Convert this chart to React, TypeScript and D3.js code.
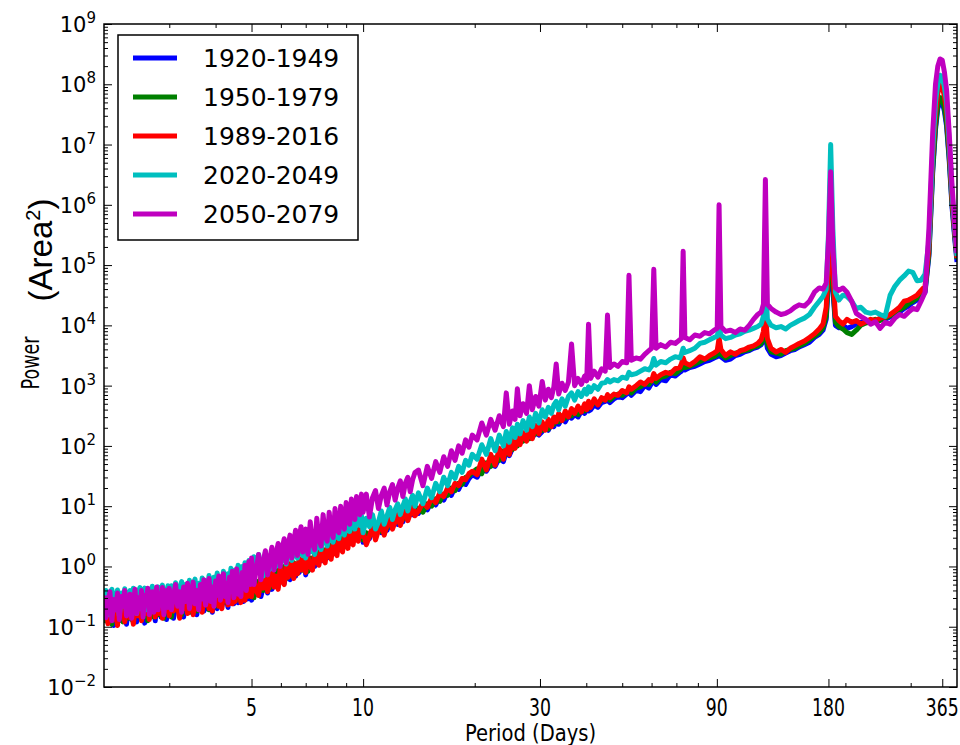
import React, { useRef, useEffect } from 'react'
import * as d3 from 'd3'

// period (days) of every spectral estimate, shared by all five runs
const periods = [
  2.000, 2.025, 2.050, 2.075, 2.100, 2.125, 2.150, 2.175, 2.200, 2.225, 2.250, 2.275, 2.300, 2.325, 2.350, 2.375, 2.400, 2.425, 2.450, 2.475,
  2.500, 2.525, 2.550, 2.575, 2.600, 2.625, 2.650, 2.675, 2.700, 2.725, 2.750, 2.775, 2.800, 2.825, 2.850, 2.875, 2.900, 2.925, 2.950, 2.975,
  3.00, 3.04, 3.08, 3.12, 3.16, 3.20, 3.24, 3.28, 3.32, 3.36, 3.40, 3.44, 3.48, 3.52, 3.56, 3.60, 3.64, 3.68, 3.72, 3.76, 3.80, 3.84, 3.88, 3.92, 3.96,
  4.00, 4.04, 4.08, 4.12, 4.16, 4.20, 4.24, 4.28, 4.32, 4.36, 4.40, 4.44, 4.48, 4.52, 4.56, 4.60, 4.64, 4.68, 4.72, 4.76, 4.80, 4.84, 4.88, 4.92, 4.96,
  5.000, 5.075, 5.150, 5.225, 5.300, 5.375, 5.450, 5.525, 5.600, 5.675, 5.750, 5.825, 5.900, 5.975, 6.050, 6.125, 6.200, 6.275, 6.350, 6.425,
  6.500, 6.575, 6.650, 6.725, 6.800, 6.875, 6.950,
  7.0, 7.1, 7.2, 7.3, 7.4, 7.5, 7.6, 7.7, 7.8, 7.9, 8.0, 8.1, 8.2, 8.3, 8.4, 8.5, 8.6, 8.7, 8.8, 8.9, 9.0, 9.1, 9.2, 9.3, 9.4, 9.5, 9.6, 9.7, 9.8, 9.9,
  10.0, 10.2, 10.4, 10.6, 10.8, 11.0, 11.2, 11.4, 11.6, 11.8, 12.0, 12.2, 12.4, 12.6, 12.8, 13.0, 13.2, 13.4, 13.6, 13.8,
  14.1, 14.5, 14.9, 15.3, 15.7, 16.1, 16.5, 16.9, 17.3, 17.7, 18.1, 18.5, 18.9, 19.3, 19.7,
  20.3, 20.9, 21.5, 22.1, 22.7, 23.3, 23.9, 24.33, 24.8, 25.3,
  25.7, 26.07, 26.5, 27.0, 27.6, 28.08, 28.6, 29.2, 29.8, 30.42,
  31.0, 31.6, 32.2, 32.7, 33.18, 33.7, 34.4, 35.1, 35.8, 36.5,
  37.2, 38.0, 38.8, 39.6, 40.1, 40.56, 41.1, 42.0, 43.0, 44.0,
  45.0, 45.63, 46.3, 47.5, 48.7, 50.0, 51.4, 52.14, 52.9, 54.5,
  56.0, 57.5, 59.0, 60.0, 60.83, 61.7, 63.5, 65.5, 67.5, 69.5,
  71.5, 72.2, 73.0, 73.8, 76.0, 78.5, 81.0, 83.5, 86.0, 88.5,
  90.2, 91.25, 92.3, 95.0, 98.0, 101, 104, 107, 110, 113,
  116, 118.5, 120.2, 121.67, 123.2, 126, 130, 134, 138, 142,
  146, 150, 155, 160, 165, 170, 174, 177.5, 180, 182.5,
  185, 188, 192, 197, 202, 208, 214, 220, 227, 234,
  241, 248, 256, 264, 272, 280, 288, 296, 304, 312,
  320, 328, 336, 344, 350, 355, 360, 365, 370, 375,
  381, 388, 395, 400
]

const blueLogPower = [
  -0.94, -0.70, -0.52, -0.86, -0.62, -0.98, -0.74, -0.56, -0.90, -0.66, -0.50, -0.80, -0.96, -0.64, -0.54, -0.88, -0.70, -0.52, -0.92, -0.60,
  -0.82, -0.48, -0.74, -0.94, -0.58, -0.68, -0.86, -0.52, -0.78, -0.62, -0.90, -0.56, -0.72, -0.50, -0.84, -0.64, -0.76, -0.48, -0.88, -0.60,
  -0.74, -0.58, -0.86, -0.64, -0.48, -0.78, -0.62, -0.84, -0.54, -0.70, -0.46, -0.76, -0.60, -0.50, -0.80, -0.56, -0.68, -0.44, -0.74, -0.58,
  -0.70, -0.48, -0.64, -0.76, -0.46, -0.62, -0.70, -0.42, -0.58, -0.66, -0.40, -0.60, -0.52, -0.68, -0.38, -0.56, -0.44, -0.62, -0.36, -0.54,
  -0.60, -0.42, -0.50, -0.32, -0.58, -0.44, -0.36, -0.54, -0.30, -0.48,
  -0.56, -0.36, -0.46, -0.28, -0.50, -0.34, -0.24, -0.44, -0.18, -0.38, -0.28, -0.12, -0.34, -0.20, -0.08, -0.28, -0.14, -0.02, -0.22, -0.06,
  0.00, -0.16, 0.04, -0.10, 0.06, -0.04, 0.10,
  -0.14, 0.06, -0.04, 0.12, 0.00, 0.18, 0.06, 0.22, 0.10, 0.26, 0.14, 0.30, 0.18, 0.34, 0.22, 0.38, 0.28, 0.42, 0.30, 0.46,
  0.36, 0.48, 0.40, 0.52, 0.44, 0.56, 0.48, 0.58, 0.52, 0.62,
  0.40, 0.54, 0.46, 0.60, 0.52, 0.64, 0.56, 0.70, 0.60, 0.72, 0.66, 0.76, 0.70, 0.82, 0.74, 0.86, 0.80, 0.90, 0.86, 0.94,
  0.88, 1.00, 0.94, 1.08, 1.02, 1.16, 1.10, 1.24, 1.18, 1.32, 1.28, 1.40, 1.36, 1.46, 1.52,
  1.48, 1.62, 1.58, 1.70, 1.66, 1.80, 1.74, 1.90, 1.84, 1.96,
  2.02, 2.06, 2.04, 2.12, 2.10, 2.16, 2.14, 2.22, 2.18, 2.24,
  2.30, 2.26, 2.36, 2.32, 2.42, 2.36, 2.46, 2.40, 2.50, 2.46,
  2.52, 2.48, 2.58, 2.54, 2.62, 2.58, 2.60, 2.68, 2.64, 2.72,
  2.74, 2.76, 2.72, 2.78, 2.82, 2.80, 2.86, 2.88, 2.84, 2.92,
  2.90, 3.00, 2.96, 3.04, 3.08, 3.02, 3.10, 3.08, 3.18, 3.16,
  3.22, 3.24, 3.30, 3.26, 3.30, 3.32, 3.36, 3.40, 3.42, 3.46,
  3.48, 3.58, 3.48, 3.42, 3.44, 3.50, 3.52, 3.56, 3.58, 3.62,
  3.64, 3.68, 3.74, 3.85, 3.62, 3.52, 3.48, 3.50, 3.54, 3.58,
  3.60, 3.64, 3.68, 3.72, 3.80, 3.85, 3.92, 4.10, 4.70, 5.45,
  4.60, 4.00, 3.96, 4.00, 3.95, 3.98, 4.02, 4.05, 4.08, 4.04,
  4.08, 4.10, 4.10, 4.14, 4.18, 4.22, 4.28, 4.32, 4.38, 4.42,
  4.48, 4.55, 5.15, 6.55, 7.25, 7.60, 7.72, 7.70, 7.55, 7.30,
  6.75, 5.95, 5.40, 5.05
]

const greenLogPower = [
  -0.62, -0.90, -0.54, -0.78, -0.96, -0.60, -0.48, -0.84, -0.66, -0.52, -0.92, -0.70, -0.56, -0.86, -0.50, -0.74, -0.94, -0.58, -0.80, -0.46,
  -0.68, -0.88, -0.52, -0.76, -0.60, -0.90, -0.48, -0.72, -0.56, -0.84, -0.64, -0.46, -0.80, -0.58, -0.74, -0.50, -0.86, -0.62, -0.44, -0.70,
  -0.66, -0.84, -0.50, -0.72, -0.60, -0.44, -0.80, -0.56, -0.68, -0.46, -0.76, -0.52, -0.64, -0.42, -0.74, -0.58, -0.48, -0.70, -0.40, -0.62,
  -0.54, -0.72, -0.44, -0.60, -0.38, -0.66, -0.50, -0.42, -0.64, -0.36, -0.56, -0.46, -0.60, -0.34, -0.52, -0.42, -0.58, -0.30, -0.48, -0.56,
  -0.36, -0.50, -0.28, -0.44, -0.54, -0.32, -0.46, -0.26, -0.40, -0.50,
  -0.30, -0.52, -0.24, -0.44, -0.20, -0.40, -0.30, -0.14, -0.36, -0.22, -0.10, -0.30, -0.04, -0.26, -0.14, 0.00, -0.20, -0.08, 0.04, -0.16,
  0.06, -0.04, -0.12, 0.10, 0.00, -0.06, 0.12,
  0.06, -0.08, 0.14, 0.02, 0.20, 0.08, 0.24, 0.12, 0.28, 0.16, 0.30, 0.22, 0.36, 0.26, 0.40, 0.30, 0.44, 0.34, 0.48, 0.38,
  0.50, 0.44, 0.54, 0.46, 0.58, 0.50, 0.60, 0.54, 0.64, 0.56,
  0.44, 0.56, 0.50, 0.62, 0.54, 0.68, 0.58, 0.72, 0.64, 0.74, 0.70, 0.80, 0.74, 0.84, 0.78, 0.88, 0.84, 0.92, 0.88, 0.98,
  0.96, 0.90, 1.04, 1.00, 1.12, 1.08, 1.20, 1.18, 1.30, 1.26, 1.38, 1.36, 1.48, 1.50, 1.56,
  1.62, 1.54, 1.72, 1.66, 1.80, 1.76, 1.92, 1.86, 1.98, 1.94,
  2.06, 2.00, 2.12, 2.08, 2.18, 2.12, 2.24, 2.20, 2.30, 2.26,
  2.34, 2.28, 2.40, 2.36, 2.44, 2.40, 2.50, 2.46, 2.54, 2.50,
  2.56, 2.52, 2.62, 2.58, 2.66, 2.62, 2.66, 2.72, 2.70, 2.76,
  2.78, 2.80, 2.76, 2.82, 2.86, 2.84, 2.90, 2.92, 2.88, 2.96,
  2.98, 3.04, 3.02, 3.08, 3.12, 3.06, 3.14, 3.16, 3.22, 3.20,
  3.26, 3.28, 3.34, 3.30, 3.32, 3.36, 3.40, 3.44, 3.46, 3.48,
  3.52, 3.62, 3.52, 3.46, 3.50, 3.54, 3.56, 3.58, 3.60, 3.64,
  3.66, 3.70, 3.78, 3.95, 3.70, 3.56, 3.54, 3.52, 3.58, 3.60,
  3.62, 3.66, 3.70, 3.76, 3.82, 3.88, 3.96, 4.15, 4.80, 5.60,
  4.70, 4.05, 3.98, 3.94, 3.88, 3.85, 3.92, 4.00, 4.04, 4.06,
  4.10, 4.08, 4.12, 4.16, 4.20, 4.26, 4.30, 4.36, 4.40, 4.45,
  4.50, 4.58, 5.20, 6.60, 7.30, 7.65, 7.78, 7.76, 7.60, 7.35,
  6.80, 6.00, 5.45, 5.10
]

const redLogPower = [
  -0.80, -0.55, -0.95, -0.62, -0.50, -0.88, -0.70, -0.98, -0.58, -0.76, -0.52, -0.92, -0.64, -0.48, -0.85, -0.60, -0.96, -0.72, -0.50, -0.82,
  -0.58, -0.90, -0.66, -0.46, -0.78, -0.56, -0.88, -0.50, -0.70, -0.44, -0.84, -0.60, -0.48, -0.78, -0.54, -0.86, -0.62, -0.42, -0.74, -0.52,
  -0.82, -0.56, -0.74, -0.44, -0.68, -0.86, -0.52, -0.70, -0.42, -0.78, -0.60, -0.48, -0.80, -0.54, -0.40, -0.72, -0.58, -0.76, -0.46, -0.64,
  -0.38, -0.70, -0.52, -0.74, -0.42, -0.60, -0.36, -0.66, -0.48, -0.70, -0.34, -0.56, -0.44, -0.64, -0.30, -0.52, -0.62, -0.38, -0.58, -0.28,
  -0.50, -0.40, -0.60, -0.26, -0.46, -0.56, -0.32, -0.50, -0.22, -0.44,
  -0.50, -0.22, -0.40, -0.48, -0.18, -0.36, -0.10, -0.42, -0.26, -0.06, -0.34, -0.16, -0.38, -0.02, -0.24, -0.30, 0.02, -0.18, -0.08, 0.08,
  -0.20, 0.04, -0.12, 0.12, -0.06, 0.16, -0.02,
  -0.10, 0.16, 0.00, -0.06, 0.22, 0.08, 0.02, 0.28, 0.12, 0.06, 0.32, 0.20, 0.12, 0.38, 0.24, 0.18, 0.44, 0.30, 0.24, 0.48,
  0.36, 0.30, 0.54, 0.40, 0.36, 0.58, 0.46, 0.42, 0.62, 0.50,
  0.58, 0.36, 0.50, 0.66, 0.44, 0.60, 0.72, 0.52, 0.68, 0.78, 0.62, 0.74, 0.86, 0.68, 0.82, 0.92, 0.76, 0.88, 1.00, 0.84,
  0.92, 1.06, 0.98, 1.14, 1.06, 1.22, 1.16, 1.30, 1.24, 1.38, 1.34, 1.46, 1.44, 1.54, 1.58,
  1.52, 1.78, 1.60, 1.86, 1.68, 1.96, 1.78, 2.02, 1.86, 2.10,
  1.96, 2.16, 2.02, 2.22, 2.08, 2.28, 2.12, 2.34, 2.20, 2.40,
  2.26, 2.44, 2.32, 2.48, 2.40, 2.54, 2.42, 2.58, 2.48, 2.62,
  2.54, 2.66, 2.56, 2.70, 2.60, 2.74, 2.64, 2.78, 2.68, 2.80,
  2.76, 2.85, 2.80, 2.86, 2.84, 2.92, 2.88, 2.98, 2.94, 3.00,
  3.06, 3.02, 3.10, 3.08, 3.20, 3.12, 3.18, 3.22, 3.20, 3.28,
  3.30, 3.36, 3.46, 3.38, 3.34, 3.40, 3.48, 3.44, 3.50, 3.54,
  3.58, 3.79, 3.60, 3.50, 3.56, 3.52, 3.58, 3.60, 3.64, 3.66,
  3.70, 3.76, 3.90, 4.20, 3.78, 3.62, 3.56, 3.60, 3.55, 3.62,
  3.66, 3.70, 3.74, 3.80, 3.86, 3.94, 4.02, 4.30, 5.00, 5.85,
  4.90, 4.15, 4.08, 4.02, 4.10, 4.05, 4.08, 4.02, 4.06, 4.10,
  4.08, 4.12, 4.14, 4.18, 4.24, 4.30, 4.40, 4.42, 4.46, 4.50,
  4.58, 4.65, 5.30, 6.80, 7.50, 7.85, 7.98, 7.96, 7.80, 7.55,
  6.95, 6.10, 5.50, 5.12
]

const cyanLogPower = [
  -0.62, -0.40, -0.80, -0.45, -0.38, -0.70, -0.50, -0.39, -0.82, -0.44, -0.58, -0.37, -0.75, -0.48, -0.40, -0.66, -0.36, -0.55, -0.78, -0.42,
  -0.35, -0.62, -0.45, -0.36, -0.72, -0.50, -0.38, -0.60, -0.33, -0.48, -0.70, -0.40, -0.34, -0.56, -0.42, -0.31, -0.64, -0.38, -0.50, -0.32,
  -0.60, -0.32, -0.48, -0.27, -0.56, -0.36, -0.25, -0.52, -0.30, -0.44, -0.23, -0.50, -0.32, -0.21, -0.46, -0.28, -0.52, -0.19, -0.38, -0.24,
  -0.48, -0.15, -0.34, -0.44, -0.18, -0.30, -0.11, -0.40, -0.20, -0.36, -0.08, -0.26, -0.42, -0.12, -0.30, -0.03, -0.22, -0.36, -0.06, -0.28,
  0.02, -0.18, -0.32, 0.00, -0.14, 0.06, -0.24, -0.04, 0.10, -0.16,
  -0.22, 0.16, -0.10, 0.20, 0.00, -0.16, 0.24, 0.05, -0.05, 0.27, 0.12, 0.00, 0.31, 0.08, 0.35, 0.14, 0.04, 0.38, 0.20, 0.10,
  0.42, 0.26, 0.14, 0.44, 0.30, 0.18, 0.48,
  0.14, 0.42, 0.24, 0.50, 0.20, 0.36, 0.54, 0.28, 0.46, 0.58, 0.34, 0.52, 0.62, 0.40, 0.56, 0.66, 0.46, 0.62, 0.72, 0.52,
  0.68, 0.76, 0.58, 0.72, 0.82, 0.62, 0.78, 0.86, 0.68, 0.84,
  0.56, 0.80, 0.66, 0.86, 0.62, 0.74, 0.92, 0.70, 0.84, 0.98, 0.78, 0.94, 1.04, 0.86, 1.00, 1.12, 0.92, 1.08, 1.18, 1.00,
  1.22, 1.04, 1.30, 1.14, 1.38, 1.24, 1.48, 1.34, 1.56, 1.46, 1.66, 1.56, 1.76, 1.68, 1.86,
  1.78, 2.02, 1.86, 2.12, 1.92, 2.18, 2.00, 2.24, 2.06, 2.30,
  2.14, 2.36, 2.20, 2.42, 2.26, 2.48, 2.32, 2.54, 2.38, 2.60,
  2.48, 2.64, 2.54, 2.68, 2.74, 2.60, 2.78, 2.66, 2.82, 2.88,
  2.76, 2.90, 2.82, 2.94, 2.86, 2.98, 2.90, 3.00, 2.94, 3.04,
  3.05, 3.10, 3.06, 3.10, 3.08, 3.14, 3.12, 3.22, 3.18, 3.20,
  3.24, 3.28, 3.26, 3.32, 3.45, 3.34, 3.40, 3.38, 3.44, 3.48,
  3.46, 3.52, 3.62, 3.55, 3.58, 3.62, 3.70, 3.72, 3.76, 3.80,
  3.82, 3.98, 3.84, 3.78, 3.80, 3.84, 3.86, 3.90, 3.92, 3.95,
  3.98, 4.02, 4.15, 4.78, 4.10, 4.00, 3.96, 3.98, 3.94, 4.00,
  4.04, 4.08, 4.12, 4.18, 4.30, 4.40, 4.48, 4.60, 5.50, 7.00,
  5.60, 4.55, 4.42, 4.50, 4.48, 4.40, 4.28, 4.30, 4.22, 4.20,
  4.22, 4.18, 4.15, 4.50, 4.65, 4.75, 4.82, 4.90, 4.88, 4.74,
  4.75, 4.85, 5.40, 6.90, 7.70, 8.00, 8.15, 8.12, 7.95, 7.70,
  7.05, 6.20, 5.55, 5.15
]

const magentaLogPower = [
  -0.48, -0.85, -0.60, -0.42, -0.90, -0.55, -0.72, -0.44, -0.88, -0.50, -0.66, -0.40, -0.82, -0.58, -0.46, -0.86, -0.62, -0.38, -0.78, -0.52,
  -0.70, -0.40, -0.84, -0.48, -0.60, -0.36, -0.80, -0.56, -0.42, -0.76, -0.50, -0.34, -0.72, -0.46, -0.62, -0.35, -0.80, -0.52, -0.40, -0.68,
  -0.36, -0.72, -0.50, -0.30, -0.66, -0.42, -0.76, -0.34, -0.58, -0.28, -0.70, -0.46, -0.26, -0.62, -0.40, -0.72, -0.30, -0.54, -0.22, -0.64,
  -0.44, -0.20, -0.58, -0.34, -0.66, -0.24, -0.48, -0.16, -0.56, -0.36, -0.12, -0.50, -0.28, -0.60, -0.18, -0.42, -0.08, -0.52, -0.30, -0.04,
  -0.46, -0.22, -0.50, -0.10, -0.36, 0.02, -0.40, -0.16, 0.08, -0.30,
  0.14, -0.30, -0.05, 0.20, -0.22, 0.08, 0.26, -0.14, 0.12, 0.32, -0.06, 0.22, 0.38, 0.00, 0.30, 0.46, 0.06, 0.34, 0.52, 0.14,
  0.42, 0.60, 0.18, 0.48, 0.66, 0.24, 0.56,
  0.62, 0.20, 0.74, 0.38, 0.28, 0.80, 0.46, 0.34, 0.86, 0.52, 0.42, 0.90, 0.58, 0.48, 0.96, 0.62, 0.56, 1.00, 0.70, 0.62,
  1.06, 0.76, 0.70, 1.12, 0.84, 0.78, 1.16, 0.90, 0.86, 1.20,
  0.90, 1.20, 0.82, 1.14, 1.26, 0.96, 1.18, 1.30, 1.02, 1.24, 1.36, 1.10, 1.30, 1.42, 1.16, 1.38, 1.48, 1.24, 1.44, 1.56,
  1.60, 1.34, 1.66, 1.46, 1.74, 1.56, 1.82, 1.66, 1.92, 1.76, 2.00, 1.88, 2.10, 1.98, 2.18,
  2.10, 2.38, 2.18, 2.44, 2.26, 2.50, 2.32, 2.88, 2.36, 2.58,
  2.44, 2.95, 2.50, 2.70, 2.54, 3.00, 2.60, 2.82, 2.66, 3.07,
  2.76, 2.94, 2.80, 2.98, 3.36, 2.86, 3.04, 2.92, 3.06, 3.69,
  3.00, 3.12, 3.02, 3.16, 3.08, 4.02, 3.12, 3.24, 3.14, 3.28,
  3.24, 4.17, 3.30, 3.36, 3.32, 3.40, 3.38, 4.83, 3.42, 3.46,
  3.44, 3.52, 3.58, 3.62, 4.93, 3.62, 3.68, 3.64, 3.72, 3.70,
  3.76, 3.78, 5.23, 3.80, 3.76, 3.84, 3.82, 3.88, 3.86, 3.92,
  3.95, 6.00, 3.98, 3.90, 3.92, 3.88, 3.94, 3.92, 4.00, 4.10,
  4.18, 4.22, 4.35, 6.42, 4.35, 4.28, 4.22, 4.18, 4.20, 4.24,
  4.30, 4.34, 4.32, 4.40, 4.55, 4.62, 4.60, 4.70, 5.40, 6.55,
  5.30, 4.62, 4.58, 4.62, 4.55, 4.40, 4.20, 4.15, 4.10, 4.02,
  4.06, 3.95, 4.05, 4.02, 4.12, 4.18, 4.15, 4.22, 4.28, 4.26,
  4.40, 4.55, 5.60, 7.20, 8.00, 8.30, 8.42, 8.40, 8.20, 7.90,
  7.20, 6.30, 5.60, 5.20
]

const seriesLabels = ['1920-1949', '1950-1979', '1989-2016', '2020-2049', '2050-2079']
const seriesColors = ['#0000ff', '#008000', '#ff0000', '#00bfbf', '#bf00bf']
const xMajorTicks = [5, 10, 30, 90, 180, 365]
const xMinorTicks = [3, 4, 6, 7, 8, 9, 20, 40, 50, 60, 70, 80, 200, 300]
const yDecades = [-2, -1, 0, 1, 2, 3, 4, 5, 6, 7, 8, 9]

const App = () => {
  const svgRef = useRef<SVGSVGElement>(null)

  useEffect(() => {
    const svg = d3.select(svgRef.current)
    svg.selectAll('*').remove()

    const frame = { left: 104, right: 957, top: 24, bottom: 687 }
    const font = 'DejaVu Sans, sans-serif'

    const xScale = d3.scaleLog().domain([2, 400]).range([frame.left, frame.right])
    const yScale = d3.scaleLog().domain([1e-2, 1e9]).range([frame.bottom, frame.top])

    svg.append('rect').attr('width', 960).attr('height', 745).attr('fill', '#fff')

    svg.append('clipPath').attr('id', 'plot-clip')
      .append('rect')
      .attr('x', frame.left).attr('y', frame.top)
      .attr('width', frame.right - frame.left).attr('height', frame.bottom - frame.top)

    // spectra, oldest first so 2050-2079 sits on top
    const line = d3.line<[number, number]>()
      .x(d => xScale(d[0]))
      .y(d => yScale(d[1]))
      .defined(d => isFinite(d[1]))
    const allSeries = [blueLogPower, greenLogPower, redLogPower, cyanLogPower, magentaLogPower]
    const lines = svg.append('g').attr('clip-path', 'url(#plot-clip)')
    allSeries.forEach((vals, i) => {
      if (vals.length !== periods.length) console.warn('length mismatch', i, vals.length, periods.length)
      const n = Math.min(vals.length, periods.length)
      const pts: [number, number][] = periods.slice(0, n).map((p, j) => [p, Math.pow(10, vals[j])])
      lines.append('path')
        .attr('d', line(pts))
        .attr('fill', 'none')
        .attr('stroke', seriesColors[i])
        .attr('stroke-width', 5)
        .attr('stroke-linejoin', 'round')
    })

    // ticks on all four sides, pointing inwards
    const yMinor: number[] = []
    yDecades.slice(0, -1).forEach(e => {
      for (let m = 2; m < 10; m++) yMinor.push(m * Math.pow(10, e))
    })
    const yMajor = yDecades.map(e => Math.pow(10, e))
    const noLabel = () => ''
    const tickGroups = [
      svg.append('g').attr('transform', `translate(0,${frame.bottom})`)
        .call(d3.axisBottom(xScale).tickValues(xMajorTicks).tickSizeInner(-8).tickSizeOuter(0).tickFormat(noLabel)),
      svg.append('g').attr('transform', `translate(0,${frame.bottom})`)
        .call(d3.axisBottom(xScale).tickValues(xMinorTicks).tickSizeInner(-4).tickSizeOuter(0).tickFormat(noLabel)),
      svg.append('g').attr('transform', `translate(0,${frame.top})`)
        .call(d3.axisTop(xScale).tickValues(xMajorTicks).tickSizeInner(-8).tickSizeOuter(0).tickFormat(noLabel)),
      svg.append('g').attr('transform', `translate(0,${frame.top})`)
        .call(d3.axisTop(xScale).tickValues(xMinorTicks).tickSizeInner(-4).tickSizeOuter(0).tickFormat(noLabel)),
      svg.append('g').attr('transform', `translate(${frame.left},0)`)
        .call(d3.axisLeft(yScale).tickValues(yMajor).tickSizeInner(-8).tickSizeOuter(0).tickFormat(noLabel)),
      svg.append('g').attr('transform', `translate(${frame.left},0)`)
        .call(d3.axisLeft(yScale).tickValues(yMinor).tickSizeInner(-4).tickSizeOuter(0).tickFormat(noLabel)),
      svg.append('g').attr('transform', `translate(${frame.right},0)`)
        .call(d3.axisRight(yScale).tickValues(yMajor).tickSizeInner(-8).tickSizeOuter(0).tickFormat(noLabel)),
      svg.append('g').attr('transform', `translate(${frame.right},0)`)
        .call(d3.axisRight(yScale).tickValues(yMinor).tickSizeInner(-4).tickSizeOuter(0).tickFormat(noLabel)),
    ]
    tickGroups.forEach(g => {
      g.select('.domain').remove()
      g.selectAll('line').attr('stroke', '#000').attr('stroke-width', 1)
    })

    svg.append('rect')
      .attr('x', frame.left).attr('y', frame.top)
      .attr('width', frame.right - frame.left).attr('height', frame.bottom - frame.top)
      .attr('fill', 'none').attr('stroke', '#000').attr('stroke-width', 1.5)

    // y tick labels 10^n
    yDecades.forEach(e => {
      const t = svg.append('text')
        .attr('x', frame.left - 8)
        .attr('y', yScale(Math.pow(10, e)) + 8)
        .attr('text-anchor', 'end')
        .attr('font-family', font)
        .attr('font-size', 21)
        .attr('fill', '#000')
      t.append('tspan').text('10')
      t.append('tspan').attr('dy', -9).attr('font-size', 15).text(e < 0 ? `\u2212${-e}` : `${e}`)
    })

    // x tick labels
    xMajorTicks.forEach(v => {
      svg.append('g')
        .attr('transform', `translate(${xScale(v)},${frame.bottom + 29}) scale(0.72,1)`)
        .append('text')
        .attr('text-anchor', 'middle')
        .attr('font-family', font)
        .attr('font-size', 24)
        .attr('fill', '#000')
        .text(v)
    })

    svg.append('g')
      .attr('transform', `translate(${(frame.left + frame.right) / 2},${frame.bottom + 54}) scale(0.85,1)`)
      .append('text')
      .attr('text-anchor', 'middle')
      .attr('font-family', font)
      .attr('font-size', 23)
      .attr('fill', '#000')
      .text('Period (Days)')

    svg.append('g')
      .attr('transform', 'translate(39,363) rotate(-90) scale(0.73,1)')
      .append('text')
      .attr('text-anchor', 'middle')
      .attr('font-family', font)
      .attr('font-size', 24)
      .attr('fill', '#000')
      .text('Power')

    const area = svg.append('text')
      .attr('transform', 'translate(52,250) rotate(-90)')
      .attr('text-anchor', 'middle')
      .attr('font-family', 'Liberation Sans, Arial, sans-serif')
      .attr('font-size', 33)
      .attr('fill', '#000')
    area.append('tspan').text('(Area')
    area.append('tspan').attr('dy', -12).attr('font-size', 20).text('2')
    area.append('tspan').attr('dy', 12).text(')')

    // legend
    const legend = svg.append('g')
    legend.append('rect')
      .attr('x', 118).attr('y', 35).attr('width', 240).attr('height', 205)
      .attr('fill', '#fff').attr('stroke', '#000').attr('stroke-width', 1.5)
    seriesLabels.forEach((label, i) => {
      const yy = 58 + i * 39
      legend.append('line')
        .attr('x1', 133).attr('x2', 177).attr('y1', yy).attr('y2', yy)
        .attr('stroke', seriesColors[i]).attr('stroke-width', 5)
      legend.append('text')
        .attr('x', 203).attr('y', yy + 9)
        .attr('font-family', font)
        .attr('font-size', 25)
        .attr('fill', '#000')
        .text(label)
    })
  }, [])

  return (
    <svg
      ref={svgRef}
      width={960}
      height={745}
      style={{ position: 'absolute', left: 0, top: 0 }}
    ></svg>
  )
}

export default App
